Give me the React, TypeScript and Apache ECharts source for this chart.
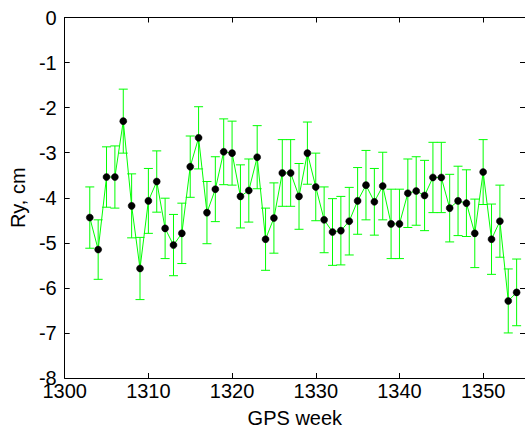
import React, { useEffect, useRef } from "react";
import * as echarts from "echarts";

const weeks: number[] = [
  1303, 1304, 1305, 1306, 1307, 1308, 1309, 1310, 1311, 1312, 1313, 1314, 1315,
  1316, 1317, 1318, 1319, 1320, 1321, 1322, 1323, 1324, 1325, 1326, 1327, 1328,
  1329, 1330, 1331, 1332, 1333, 1334, 1335, 1336, 1337, 1338, 1339, 1340, 1341,
  1342, 1343, 1344, 1345, 1346, 1347, 1348, 1349, 1350, 1351, 1352, 1353, 1354,
];

const ryValues: number[] = [
  -4.44, -5.15, -3.54, -3.54, -2.3, -4.18, -5.57, -4.07, -3.64, -4.68, -5.05, -4.79, -3.31,
  -2.67, -4.33, -3.81, -2.98, -3.01, -3.97, -3.84, -3.1, -4.92, -4.45, -3.45, -3.45, -3.97,
  -3.01, -3.76, -4.49, -4.76, -4.73, -4.52, -4.07, -3.72, -4.09, -3.74, -4.58, -4.58, -3.9,
  -3.85, -3.95, -3.55, -3.55, -4.23, -4.07, -4.12, -4.79, -3.43, -4.92, -4.52, -6.29, -6.1,
];

const ryErrors: number[] = [
  0.68, 0.66, 0.67, 0.69, 0.71, 0.71, 0.69, 0.72, 0.68, 0.67, 0.68, 0.67, 0.68,
  0.69, 0.69, 0.72, 0.73, 0.71, 0.7, 0.7, 0.7, 0.69, 0.78, 0.74, 0.74, 0.73,
  0.69, 0.75, 0.73, 0.74, 0.76, 0.75, 0.74, 0.77, 0.74, 0.75, 0.77, 0.77, 0.76,
  0.76, 0.78, 0.78, 0.78, 0.75, 0.77, 0.74, 0.76, 0.72, 0.78, 0.8, 0.71, 0.74,
];

const xTicks = { min: 1300, max: 1355, step: 10 };
const yTicks = { min: -8, max: 0, step: 1 };

const FONT = "'Liberation Sans', Arial, Helvetica, sans-serif";
const GREEN = "#00ff00";

export default function App() {
  const ref = useRef<HTMLDivElement>(null);

  useEffect(() => {
    if (!ref.current) return;
    const chart = echarts.init(ref.current, undefined, { renderer: "svg" });

    const lineData = weeks.map((w, i) => [w, ryValues[i]]);
    const errData = weeks.map((w, i) => [w, ryValues[i] - ryErrors[i], ryValues[i] + ryErrors[i]]);

    const axisCommon = {
      type: "value" as const,
      splitLine: { show: false },
      axisLine: { show: true, onZero: false, lineStyle: { color: "#000", width: 1 } },
      axisTick: { show: true, inside: true, length: 5, lineStyle: { color: "#000" } },
    };

    const xLabelFmt = (v: number) => (v % 10 === 0 ? String(v) : "");

    chart.setOption({
      animation: false,
      backgroundColor: "#fff",
      grid: { left: 60.5, right: -5, top: 17.5, bottom: 49, containLabel: false },
      xAxis: [
        {
          ...axisCommon,
          position: "bottom",
          min: xTicks.min,
          max: xTicks.max,
          interval: xTicks.step,
          axisLabel: {
            show: true,
            fontSize: 20,
            fontFamily: FONT,
            color: "#000",
            margin: 3,
            showMaxLabel: false,
            formatter: xLabelFmt,
          },
          name: "GPS week",
          nameLocation: "middle",
          nameGap: 30,
          nameTextStyle: { fontSize: 20, fontFamily: FONT, color: "#000" },
        },
        {
          ...axisCommon,
          position: "top",
          min: xTicks.min,
          max: xTicks.max,
          interval: xTicks.step,
          axisLabel: { show: false },
        },
      ],
      yAxis: [
        {
          ...axisCommon,
          position: "left",
          min: yTicks.min,
          max: yTicks.max,
          interval: yTicks.step,
          axisLabel: { show: true, fontSize: 20, fontFamily: FONT, color: "#000", margin: 8 },
          name: "Ry, cm",
          nameLocation: "middle",
          nameRotate: 90,
          nameGap: 34,
          nameTextStyle: { fontSize: 20, fontFamily: FONT, color: "#000" },
        },
        {
          ...axisCommon,
          position: "right",
          min: yTicks.min,
          max: yTicks.max,
          interval: yTicks.step,
          axisLabel: { show: false },
        },
      ],
      series: [
        {
          type: "custom",
          xAxisIndex: 0,
          yAxisIndex: 0,
          data: errData,
          z: 2,
          renderItem: (params: any, api: any) => {
            const x = api.value(0);
            const lo = api.coord([x, api.value(1)]);
            const hi = api.coord([x, api.value(2)]);
            const cap = 4.5;
            const style = { stroke: GREEN, lineWidth: 1, fill: "none" };
            return {
              type: "group",
              children: [
                { type: "line", shape: { x1: lo[0], y1: lo[1], x2: hi[0], y2: hi[1] }, style },
                { type: "line", shape: { x1: lo[0] - cap, y1: lo[1], x2: lo[0] + cap, y2: lo[1] }, style },
                { type: "line", shape: { x1: hi[0] - cap, y1: hi[1], x2: hi[0] + cap, y2: hi[1] }, style },
              ],
            };
          },
        },
        {
          type: "line",
          xAxisIndex: 0,
          yAxisIndex: 0,
          data: lineData,
          z: 3,
          symbol: "circle",
          symbolSize: 7,
          showSymbol: true,
          lineStyle: { color: GREEN, width: 1 },
          itemStyle: { color: "#000", borderColor: "#000", borderWidth: 0.5 },
        },
      ],
    });

    return () => chart.dispose();
  }, []);

  return (
    <div
      ref={ref}
      style={{ position: "absolute", left: 0, top: 0, width: 525, height: 433, background: "#fff" }}
    />
  );
}
